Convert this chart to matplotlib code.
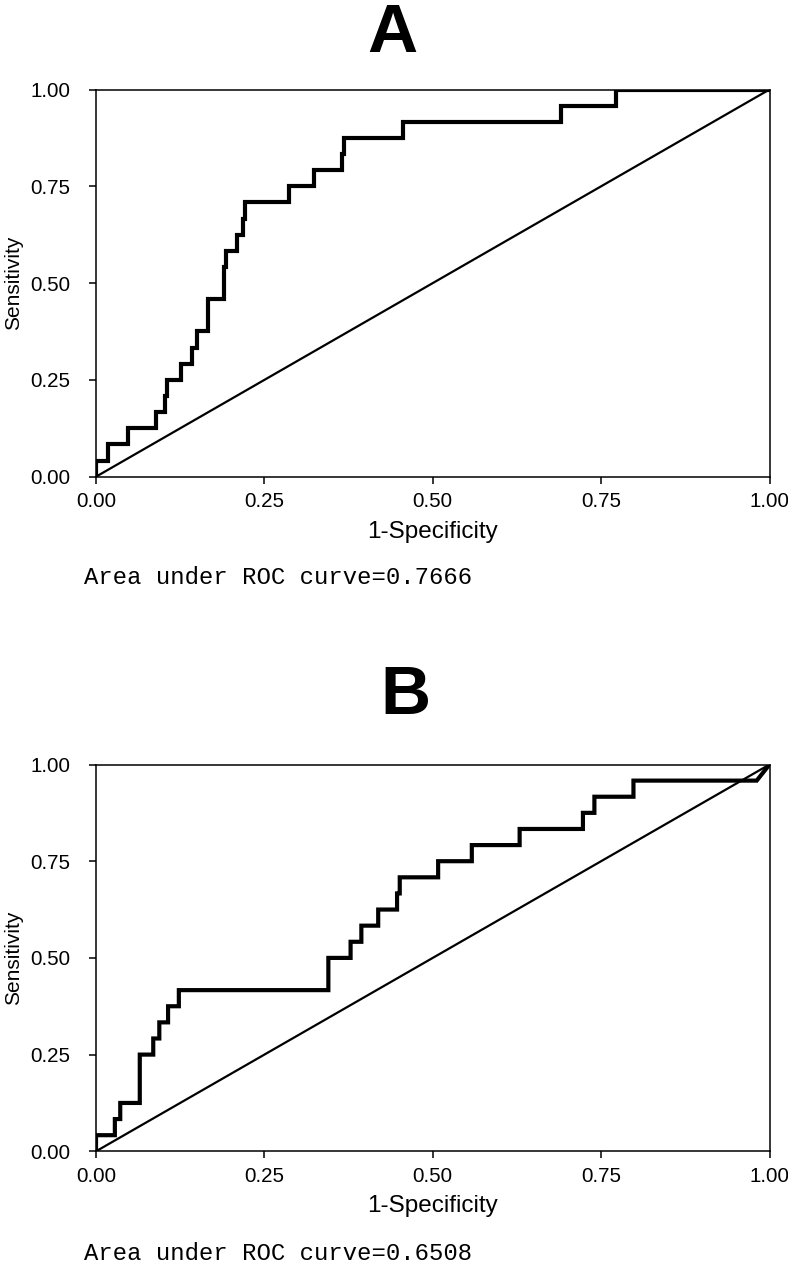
import matplotlib
matplotlib.use("Agg")
import matplotlib.pyplot as plt
import numpy as np

# ROC corner points (1-specificity, number of positives detected out of 24)
fpr_a = [0.0, 0.0, 0.018, 0.048, 0.089, 0.1025, 0.106, 0.126, 0.142, 0.150, 0.167, 0.1906,
         0.193, 0.209, 0.218, 0.2213, 0.287, 0.324, 0.365, 0.368, 0.456, 0.690, 0.772, 1.0]
tp_a = [0, 1, 2, 3, 4, 5, 6, 7, 8, 9, 11, 13, 14, 15, 16, 17, 18, 19, 20, 21, 22, 23, 24, 24]

fpr_b = [0.0, 0.0, 0.028, 0.036, 0.065, 0.085, 0.094, 0.107, 0.123, 0.345, 0.378, 0.394,
         0.419, 0.447, 0.451, 0.508, 0.558, 0.629, 0.723, 0.740, 0.798, 0.981, 1.0]
tp_b = [0, 1, 2, 3, 6, 7, 8, 9, 10, 12, 13, 14, 15, 16, 17, 18, 19, 20, 21, 22, 23, 23, 24]
n_pos = 24

titles = ["A", "B"]
auc_text = ["Area under ROC curve=0.7666", "Area under ROC curve=0.6508"]
ticks = [0.0, 0.25, 0.5, 0.75, 1.0]
tick_labels = ["0.00", "0.25", "0.50", "0.75", "1.00"]


def step_path(fpr, tp, diag_last=False):
    xs, ys = [fpr[0]], [tp[0]]
    n = len(fpr)
    for i in range(1, n):
        if diag_last and i == n - 1:
            xs.append(fpr[i]); ys.append(tp[i])
        else:
            xs += [fpr[i], fpr[i]]
            ys += [tp[i - 1], tp[i]]
    return np.array(xs), np.array(ys) / n_pos


plt.rcParams['font.family'] = ['Liberation Sans', 'DejaVu Sans']

fig = plt.figure(figsize=(7.88, 12.63), dpi=100)
W, H = 788, 1263

panels = [
    dict(fpr=fpr_a, tp=tp_a, diag=False, top=89.5, bottom=476.7, title_x=392, title_y=52, txt_y=578),
    dict(fpr=fpr_b, tp=tp_b, diag=True, top=764.5, bottom=1151.3, title_x=405, title_y=714, txt_y=1253),
]

for k, p in enumerate(panels):
    left, right = 96, 769.5
    ax = fig.add_axes([left / W, 1 - p['bottom'] / H, (right - left) / W, (p['bottom'] - p['top']) / H])
    x, y = step_path(p['fpr'], p['tp'], p['diag'])
    ax.plot([0, 1], [0, 1], color='black', lw=1.6, solid_capstyle='butt')
    ax.plot(x, y, color='black', lw=3.0, solid_joinstyle='miter')
    ax.set_xlim(0, 1)
    ax.set_ylim(0, 1)
    ax.set_xticks(ticks)
    ax.set_xticklabels(tick_labels)
    ax.set_yticks(ticks)
    ax.set_yticklabels(tick_labels)
    ax.tick_params(direction='out', length=5, width=1.1, labelsize=14.8)
    ax.tick_params(axis='x', pad=6)
    ax.tick_params(axis='y', pad=13.5)
    for s in ax.spines.values():
        s.set_linewidth(1.1)
    ax.set_xlabel("1-Specificity", fontsize=17.5, labelpad=7)
    ax.set_ylabel("Sensitivity", fontsize=15)
    ax.yaxis.set_label_coords(-0.1077, 0.5)
    fig.text(p['title_x'] / W, 1 - p['title_y'] / H, titles[k], fontsize=50,
             fontweight='bold', ha='center', va='baseline')
    fig.text(84 / W, 1 - p['txt_y'] / H, auc_text[k], fontsize=17.2,
             family='Liberation Mono', ha='left', va='center')

fig.savefig("out.png", dpi=100)
